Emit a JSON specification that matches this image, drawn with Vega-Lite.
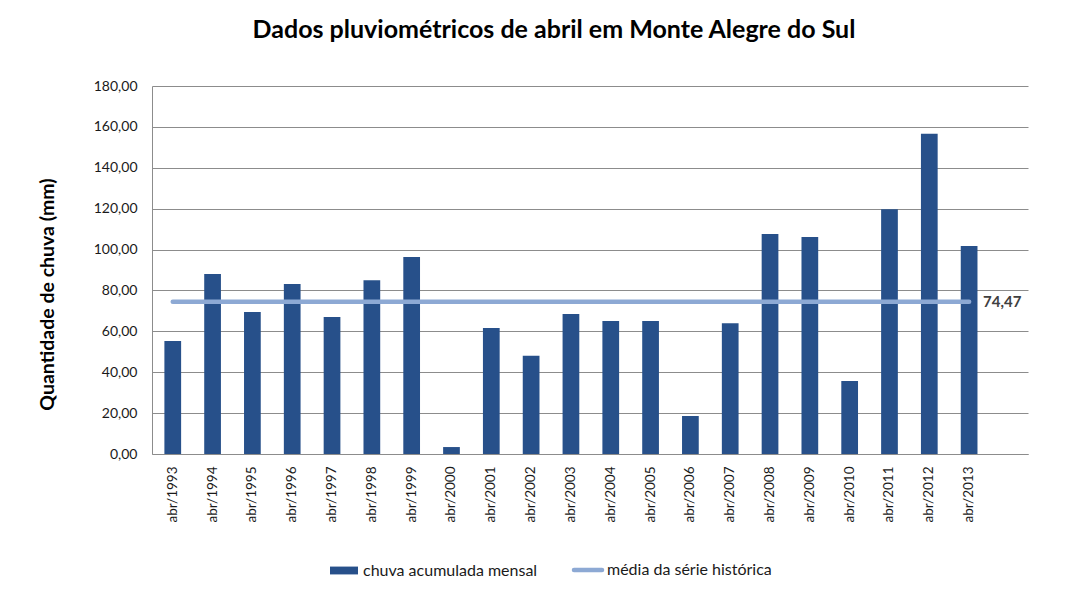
{
  "$schema": "https://vega.github.io/schema/vega-lite/v6.json",
  "width": 876,
  "height": 368,
  "autosize": {"type": "none"},
  "padding": {"left": 152, "top": 86, "right": 59, "bottom": 136},
  "background": "white",
  "title": {
    "text": "Dados pluviométricos de abril em Monte Alegre do Sul",
    "font": "Lato",
    "fontSize": 25,
    "fontWeight": "bold",
    "color": "#000000",
    "anchor": "middle",
    "dx": -36,
    "offset": 36
  },
  "data": {
    "values": [
      {"ano": "abr/1993", "chuva": 55.3, "media": 74.47},
      {"ano": "abr/1994", "chuva": 88.0, "media": 74.47},
      {"ano": "abr/1995", "chuva": 69.5, "media": 74.47},
      {"ano": "abr/1996", "chuva": 83.2, "media": 74.47},
      {"ano": "abr/1997", "chuva": 67.0, "media": 74.47},
      {"ano": "abr/1998", "chuva": 85.0, "media": 74.47},
      {"ano": "abr/1999", "chuva": 96.4, "media": 74.47},
      {"ano": "abr/2000", "chuva": 3.4, "media": 74.47},
      {"ano": "abr/2001", "chuva": 61.6, "media": 74.47},
      {"ano": "abr/2002", "chuva": 48.0, "media": 74.47},
      {"ano": "abr/2003", "chuva": 68.5, "media": 74.47},
      {"ano": "abr/2004", "chuva": 65.0, "media": 74.47},
      {"ano": "abr/2005", "chuva": 65.0, "media": 74.47},
      {"ano": "abr/2006", "chuva": 18.6, "media": 74.47},
      {"ano": "abr/2007", "chuva": 64.0, "media": 74.47},
      {"ano": "abr/2008", "chuva": 107.6, "media": 74.47},
      {"ano": "abr/2009", "chuva": 106.2, "media": 74.47},
      {"ano": "abr/2010", "chuva": 35.7, "media": 74.47},
      {"ano": "abr/2011", "chuva": 119.7, "media": 74.47},
      {"ano": "abr/2012", "chuva": 156.6, "media": 74.47},
      {"ano": "abr/2013", "chuva": 101.8, "media": 74.47}
    ]
  },
  "encoding": {
    "x": {
      "field": "ano",
      "type": "nominal",
      "sort": null,
      "scale": {"paddingInner": 0.58, "paddingOuter": 0.79, "align": 0.197},
      "axis": {
        "title": null,
        "labelAngle": -90,
        "labelFont": "Lato",
        "labelFontSize": 13.5,
        "labelColor": "#1a1a1a",
        "labelPadding": 12,
        "ticks": false,
        "domainColor": "#8c8c8c",
        "domainWidth": 1,
        "grid": false
      }
    }
  },
  "layer": [
    {
      "mark": {"type": "bar", "color": "#27508A"},
      "encoding": {
        "y": {
          "field": "chuva",
          "type": "quantitative",
          "scale": {"domain": [0, 180], "nice": false},
          "axis": {
            "title": "Quantidade de chuva (mm)",
            "titleFont": "Lato",
            "titleFontSize": 19.5,
            "titleFontWeight": "bold",
            "titleColor": "#000000",
            "titlePadding": 36,
            "titleY": 208,
            "values": [0, 20, 40, 60, 80, 100, 120, 140, 160, 180],
            "labelExpr": "replace(format(datum.value, '.2f'), '.', ',')",
            "labelFont": "Lato",
            "labelFontSize": 14,
            "labelColor": "#1a1a1a",
            "labelPadding": 15,
            "ticks": false,
            "domainColor": "#8c8c8c",
            "gridColor": "#8c8c8c",
            "gridWidth": 1
          }
        },
        "color": {
          "datum": "chuva acumulada mensal",
          "type": "nominal",
          "scale": {
            "domain": ["chuva acumulada mensal", "média da série histórica"],
            "range": ["#27508A", "#8DA9D4"]
          },
          "legend": {
            "title": null,
            "orient": "none",
            "direction": "horizontal",
            "legendX": 184,
            "legendY": 476,
            "labelFont": "Lato",
            "labelFontSize": 16,
            "labelColor": "#1a1a1a",
            "labelLimit": 0,
            "labelOffset": 11,
            "columnPadding": 27,
            "symbolSize": 784,
            "encode": {
              "symbols": {
                "update": {
                  "shape": {"signal": "datum.value == 'chuva acumulada mensal' ? 'M-1,-0.28H1V0.28H-1Z' : 'stroke'"},
                  "fill": {"signal": "datum.value == 'chuva acumulada mensal' ? '#27508A' : 'transparent'"},
                  "stroke": {"signal": "datum.value == 'chuva acumulada mensal' ? 'transparent' : '#8DA9D4'"},
                  "strokeWidth": {"signal": "datum.value == 'chuva acumulada mensal' ? 0 : 4.5"},
                  "strokeCap": {"value": "round"},
                  "opacity": {"value": 1}
                }
              }
            }
          }
        }
      }
    },
    {
      "mark": {"type": "line", "strokeWidth": 4.5, "strokeCap": "round"},
      "encoding": {
        "y": {"field": "media", "type": "quantitative"},
        "color": {"datum": "média da série histórica", "type": "nominal"}
      }
    },
    {
      "transform": [{"filter": "datum.ano == 'abr/2013'"}],
      "mark": {
        "type": "text",
        "align": "left",
        "baseline": "middle",
        "dx": 14,
        "font": "Lato",
        "fontSize": 15,
        "fontWeight": "bold",
        "color": "#404040"
      },
      "encoding": {
        "y": {"field": "media", "type": "quantitative"},
        "text": {"value": "74,47"}
      }
    }
  ],
  "config": {
    "view": {"stroke": null}
  }
}
